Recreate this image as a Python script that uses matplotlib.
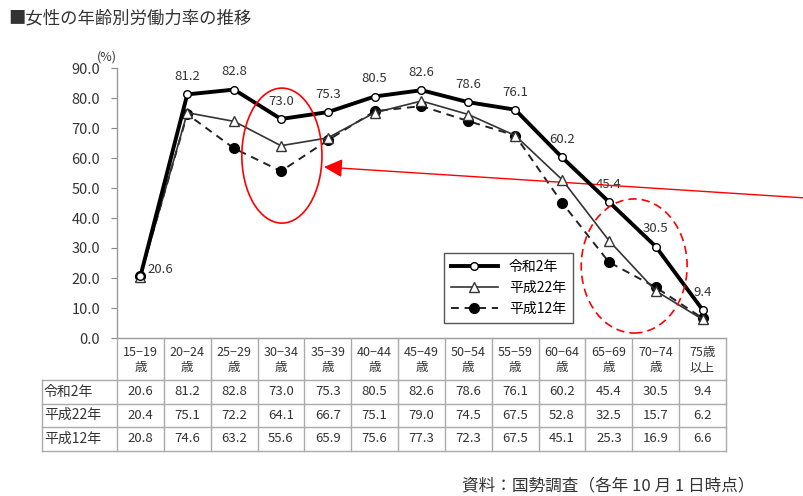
import matplotlib
matplotlib.use("Agg")
import matplotlib.pyplot as plt
from matplotlib.patches import Ellipse

plt.rcParams['font.family'] = ['Noto Sans CJK JP', 'DejaVu Sans']

# 年齢階級と労働力率(%)
age_groups = ["15−19\n歳", "20−24\n歳", "25−29\n歳", "30−34\n歳", "35−39\n歳",
              "40−44\n歳", "45−49\n歳", "50−54\n歳", "55−59\n歳", "60−64\n歳",
              "65−69\n歳", "70−74\n歳", "75歳\n以上"]
reiwa2 = [20.6, 81.2, 82.8, 73.0, 75.3, 80.5, 82.6, 78.6, 76.1, 60.2, 45.4, 30.5, 9.4]
heisei22 = [20.4, 75.1, 72.2, 64.1, 66.7, 75.1, 79.0, 74.5, 67.5, 52.8, 32.5, 15.7, 6.2]
heisei12 = [20.8, 74.6, 63.2, 55.6, 65.9, 75.6, 77.3, 72.3, 67.5, 45.1, 25.3, 16.9, 6.6]
series_names = ["令和2年", "平成22年", "平成12年"]
y_ticks = [0, 10, 20, 30, 40, 50, 60, 70, 80, 90]

W, H = 804, 496
fig = plt.figure(figsize=(W / 100, H / 100), dpi=100)

# グラフ部分(ピクセル位置で配置)
px_left, px_right, px_top, px_bottom = 117, 726, 68, 338
ax = fig.add_axes([px_left / W, 1 - px_bottom / H,
                   (px_right - px_left) / W, (px_bottom - px_top) / H])
n = len(age_groups)
x = list(range(n))
ax.set_xlim(-0.5, n - 0.5)
ax.set_ylim(0, 90)

ax.plot(x, heisei12, color='#222222', lw=1.4, ls=(0, (4, 3)), marker='o', ms=7,
        mfc='black', mec='black', label=series_names[2], zorder=3)
ax.plot(x, heisei22, color='#333333', lw=1.2, marker='^', ms=7,
        mfc='white', mec='#333333', mew=1, label=series_names[1], zorder=4)
ax.plot(x, reiwa2, color='black', lw=2.8, marker='o', ms=5.5,
        mfc='white', mec='black', mew=1, label=series_names[0], zorder=5)

for i, v in enumerate(reiwa2):
    if i == 0:
        ax.annotate(f"{v:.1f}", (i, v), xytext=(5, 5), textcoords='offset points',
                    ha='left', va='center', fontsize=9.5, color='#333333')
    else:
        ax.annotate(f"{v:.1f}", (i, v), xytext=(0, 8), textcoords='offset points',
                    ha='center', va='bottom', fontsize=9.5, color='#333333')

ax.set_yticks(y_ticks)
ax.set_yticklabels([f"{t:.1f}" for t in y_ticks])
ax.tick_params(axis='y', direction='out', length=4, pad=8, labelsize=10.5,
               color='#888888', labelcolor='#333333')
ax.set_xticks([])
for s in ['top', 'right']:
    ax.spines[s].set_visible(False)
for s in ['left', 'bottom']:
    ax.spines[s].set_color('#999999')
    ax.spines[s].set_linewidth(1)
ax.text(-0.5, 91.5, "(%)", ha='right', va='bottom', fontsize=9, color='#333333')

handles, labels = ax.get_legend_handles_labels()
leg = ax.legend(handles[::-1], labels[::-1], loc='lower left',
                bbox_to_anchor=(0.525, 0.03), fontsize=10, handlelength=3.4,
                fancybox=False, edgecolor='#555555', framealpha=1,
                borderpad=0.5, labelspacing=0.5)
leg.get_frame().set_linewidth(1)

# 赤い強調の楕円と矢印
ax.add_patch(Ellipse((3.02, 60.8), 1.71, 45, fill=False, ec='red', lw=1.2, clip_on=False, zorder=6))
ax.add_patch(Ellipse((10.54, 24.0), 2.26, 44.7, fill=False, ec='red', lw=1.2,
                     ls=(0, (5, 3)), clip_on=False, zorder=6))
ax.annotate('', xy=(324, H - 167), xytext=(806, H - 198),
            xycoords='figure pixels', textcoords='figure pixels',
            arrowprops=dict(arrowstyle='-|>,head_length=0.8,head_width=0.4',
                            color='red', lw=1, mutation_scale=14, shrinkA=0, shrinkB=0))

# 下のデータ表
tab_left, tab_bottom = 42, 451
tax = fig.add_axes([tab_left / W, 1 - tab_bottom / H,
                    (px_right - tab_left) / W, (tab_bottom - px_bottom) / H])
col_w = (px_right - px_left) / n
xl = -0.5 - (px_left - tab_left) / col_w
tax.set_xlim(xl, n - 0.5)
tax.set_ylim(tab_bottom, px_bottom)
tax.axis('off')

grid_c = '#aaaaaa'
row_edges = [380, 403.5, 427, 451]
for yy in row_edges:
    tax.plot([xl, n - 0.5], [yy, yy], color=grid_c, lw=1, clip_on=False)
for k in range(n + 1):
    tax.plot([k - 0.5, k - 0.5], [px_bottom, tab_bottom], color=grid_c, lw=1, clip_on=False)
tax.plot([xl, xl], [row_edges[0], tab_bottom], color=grid_c, lw=1, clip_on=False)

for i, lab in enumerate(age_groups):
    tax.text(i, (px_bottom + row_edges[0]) / 2 + 1, lab, ha='center', va='center',
             fontsize=9, color='#333333', linespacing=1.2)

rows = [reiwa2, heisei22, heisei12]
for r, (name, vals) in enumerate(zip(series_names, rows)):
    yc = (row_edges[r] + row_edges[r + 1]) / 2
    tax.text(xl + 0.04, yc, name, ha='left', va='center', fontsize=10, color='#333333')
    for i, v in enumerate(vals):
        tax.text(i, yc, f"{v:.1f}", ha='center', va='center', fontsize=9.5, color='#333333')

fig.text(8 / W, 1 - 18 / H, "■女性の年齢別労働力率の推移", ha='left', va='center',
         fontsize=12.5, color='#333333')
fig.text(462 / W, 1 - 486 / H, "資料：国勢調査（各年 10 月 1 日時点）", ha='left', va='center',
         fontsize=12, color='#333333')

fig.savefig("out.png", dpi=100)
